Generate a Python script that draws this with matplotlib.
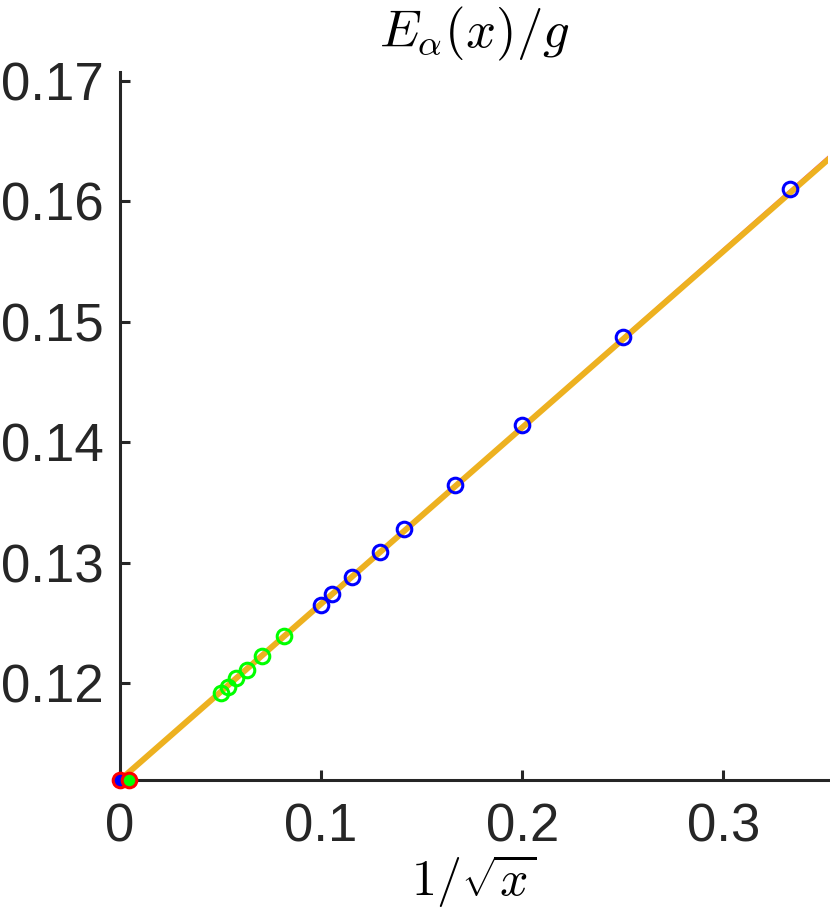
import numpy as np
import matplotlib
matplotlib.use('Agg')
import matplotlib.pyplot as plt

plt.rcParams['font.family'] = ['Liberation Sans', 'DejaVu Sans']
plt.rcParams['mathtext.fontset'] = 'cm'

# data
n_blue = np.array([9, 16, 25, 36, 50, 60, 75, 90, 100])
e_blue = [0.16101, 0.14873, 0.14143, 0.13645, 0.13277, 0.13090, 0.12886, 0.12740, 0.12646]
n_green = np.array([150, 200, 250, 300, 350, 400])
e_green = [0.12392, 0.12228, 0.12110, 0.12041, 0.11971, 0.11916]
x_inf = [0.0, 0.0046]
e_inf = [0.11198, 0.11198]
fit_intercept = 0.11198
fit_slope = 0.1462
fit2_slope = 0.1468

x_blue = 1 / np.sqrt(n_blue)
x_green = 1 / np.sqrt(n_green)
xx = np.array([0.0, 0.352])

fig = plt.figure(figsize=(8.3, 9.24), dpi=100)
ax = fig.add_axes([0.1446, 0.1558, 0.853, 0.7662])

ax.plot(xx, fit_intercept + fit2_slope * xx, color='#FF00FF', lw=1.5, zorder=2)
ax.plot(xx, fit_intercept + fit_slope * xx, color='#EDB120', lw=4.3, zorder=3)
ax.plot(x_blue, e_blue, 'o', mfc='none', mec='#0000FF', ms=10.5, mew=2.2, zorder=4)
ax.plot(x_green, e_green, 'o', mfc='none', mec='#00FF00', ms=10.5, mew=2.2, zorder=4)
ax.plot(x_inf[0], e_inf[0], 'o', mfc='#0000FF', mec='#FF0000', ms=10.5, mew=2.2,
        zorder=5, clip_on=False)
ax.plot(x_inf[1], e_inf[1], 'o', mfc='#00FF00', mec='#FF0000', ms=10.5, mew=2.2,
        zorder=5, clip_on=False)

ax.set_xlim(0, 0.352)
ax.set_ylim(0.11198, 0.1707)
ax.set_xticks([0, 0.1, 0.2, 0.3])
ax.set_xticklabels(['0', '0.1', '0.2', '0.3'])
ax.set_yticks([0.12, 0.13, 0.14, 0.15, 0.16, 0.17])
ax.set_yticklabels(['0.12', '0.13', '0.14', '0.15', '0.16', '0.17'])

for s in ['top', 'right']:
    ax.spines[s].set_visible(False)
for s in ['left', 'bottom']:
    ax.spines[s].set_color('#262626')
    ax.spines[s].set_linewidth(2.2)
ax.tick_params(direction='in', length=7, width=2.2, colors='#262626',
               labelsize=38)
ax.tick_params(axis='x', pad=16)
ax.tick_params(axis='y', pad=12)

ax.set_title(r'$E_\alpha(x)/g$', fontsize=38, pad=18)
ax.set_xlabel(r'$1/\sqrt{x}$', fontsize=36, labelpad=0)

fig.savefig('out.png', dpi=100, facecolor='white')
